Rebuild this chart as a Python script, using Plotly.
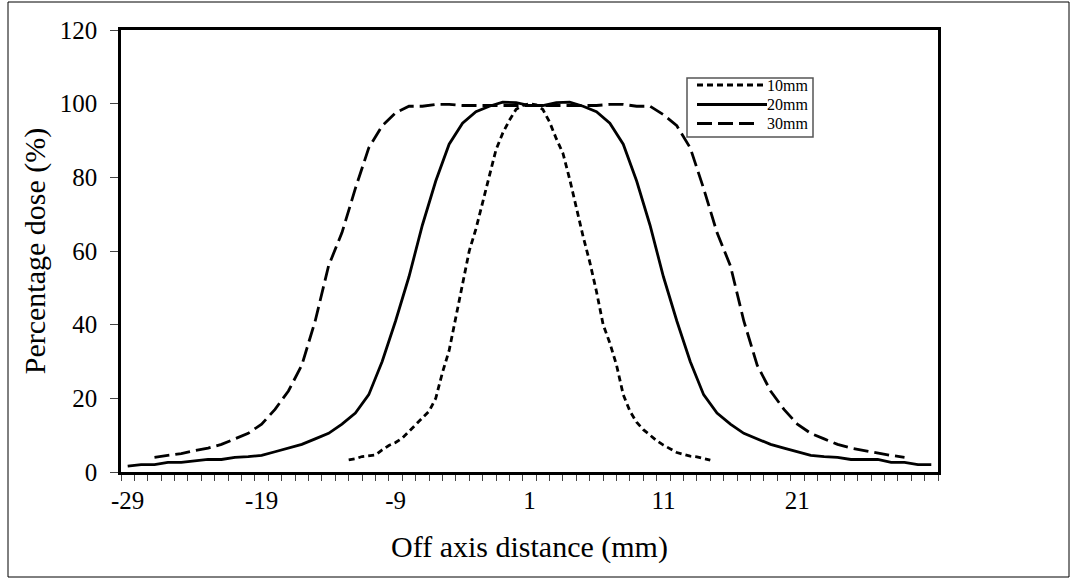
import plotly.graph_objects as go

# ---- data ----
x_20mm = list(range(-29, 32))
dose_20mm = [1.6, 2.0, 2.0, 2.6, 2.6, 3.0, 3.4, 3.4, 4.0, 4.2,      # -29..-20
             4.5, 5.5, 6.5, 7.5, 9.0, 10.5, 13.0, 16.0, 21.0, 30.0,  # -19..-10
             41.0, 53.0, 67.0, 79.0, 89.0, 94.7, 97.8, 99.3, 100.4, 100.3,  # -9..0
             99.5, 99.5, 100.3, 100.4, 99.3, 97.8, 94.7, 89.0, 79.0, 67.0,  # 1..10
             53.0, 41.0, 30.0, 21.0, 16.0, 13.0, 10.5, 9.0, 7.5, 6.5,      # 11..20
             5.5, 4.5, 4.2, 4.0, 3.4, 3.4, 3.4, 2.6, 2.6, 2.0, 2.0]        # 21..31

x_30mm = list(range(-27, 30))
dose_30mm = [4.0, 4.5, 5.0, 5.8, 6.5, 7.5, 9.0, 10.5, 13.0, 17.0,   # -27..-18
             22.0, 29.0, 41.0, 56.0, 65.0, 77.0, 88.0, 94.0, 97.5, 99.3,  # -17..-8
             99.3, 99.8, 99.8, 99.5, 99.5, 99.5, 99.5, 99.5, 99.5, 99.5,  # -7..2
             99.5, 99.5, 99.5, 99.5, 99.8, 99.8, 99.3, 99.3, 97.0, 94.0,  # 3..12
             88.0, 77.0, 65.0, 56.0, 41.0, 29.0, 22.0, 17.0, 13.0, 10.5,  # 13..22
             9.0, 7.5, 6.5, 5.8, 5.0, 4.5, 4.0]                           # 23..29

x_10mm = [v / 2 for v in range(-25, 30)]
dose_10mm = [3.3, 3.6, 4.2, 4.4, 4.6, 6.0, 7.2, 8.0, 9.2, 11.0,      # -12.5..-8
             12.8, 14.5, 16.5, 20.0, 27.0, 33.0, 42.0, 52.0, 60.0, 66.0,  # -7.5..-3
             73.0, 80.0, 87.5, 92.0, 95.5, 98.5, 99.5, 100.0, 99.7, 98.4,  # -2.5..2
             95.0, 90.5, 86.5, 79.5, 71.5, 64.0, 57.0, 49.0, 40.0, 35.0,  # 2.5..7
             29.0, 21.0, 16.5, 13.5, 11.5, 10.0, 8.5, 7.3, 6.3, 5.3,      # 7.5..12
             4.8, 4.3, 4.1, 3.6, 3.2]                                      # 12.5..14.5

series_names = ["10mm", "20mm", "30mm"]
x_tick_vals = [-29, -19, -9, 1, 11, 21]
x_tick_text = ["-29", "-19", "-9", "1", "11", "21"]
y_tick_vals = [0, 20, 40, 60, 80, 100, 120]

FONT = "Liberation Serif, Times New Roman, serif"
DASHES = ["6px,4px", "solid", "15px,6px"]
LW = 2.8

fig = go.Figure()
for xs, ys, name, dash in zip([x_10mm, x_20mm, x_30mm],
                              [dose_10mm, dose_20mm, dose_30mm],
                              series_names, DASHES):
    fig.add_trace(go.Scatter(x=xs, y=ys, mode="lines", name=name,
                             line=dict(color="black", width=LW, dash=dash)))

fig.update_layout(
    width=1075, height=579,
    margin=dict(l=121, r=137, t=30, b=107),
    paper_bgcolor="white", plot_bgcolor="white",
    font=dict(family=FONT, color="black", size=25),
    showlegend=False,
    xaxis=dict(range=[-29.5, 31.5], tickmode="array", tickvals=x_tick_vals,
               ticktext=x_tick_text, ticks="", showgrid=False, zeroline=False,
               showline=True, linecolor="black", linewidth=2.5, mirror=True,
               ticklabelstandoff=4,
               tickfont=dict(family=FONT, size=25, color="black"),
               minor=dict(tick0=-29.5, dtick=1, ticks="outside", ticklen=6,
                          tickwidth=1, tickcolor="#444444", showgrid=False),
               title=dict(text="Off axis distance (mm)", standoff=24,
                          font=dict(family=FONT, size=30, color="black"))),
    yaxis=dict(range=[0, 120], tickmode="array", tickvals=y_tick_vals,
               ticks="outside", ticklen=8, tickwidth=1, tickcolor="#444444",
               showgrid=False, zeroline=False, ticklabelstandoff=8,
               showline=True, linecolor="black", linewidth=2.5, mirror=True,
               tickfont=dict(family=FONT, size=25, color="black"),
               title=dict(text="Percentage dose (%)", standoff=6,
                          font=dict(family=FONT, size=30, color="black"))),
)

# outer chart-area border
def px_x(p):
    return (p - 121) / 817

def px_y(p):
    return (472 - p) / 442

fig.add_shape(type="rect", xref="paper", yref="paper",
              x0=px_x(8), x1=px_x(1069), y0=px_y(577), y1=px_y(2),
              line=dict(color="black", width=1), fillcolor="rgba(0,0,0,0)")

# legend box (drawn as in the original chart)
fig.add_shape(type="rect", xref="paper", yref="paper",
              x0=px_x(687), x1=px_x(813), y0=px_y(137), y1=px_y(78),
              line=dict(color="#555555", width=1.5), fillcolor="white")
leg_rows = [85, 104.5, 123.5]
leg_ends = [765, 767, 760]
for name, dash, row, end in zip(series_names, DASHES, leg_rows, leg_ends):
    fig.add_shape(type="line", xref="paper", yref="paper",
                  x0=px_x(697), x1=px_x(end), y0=px_y(row), y1=px_y(row),
                  line=dict(color="black", width=LW, dash=dash))
    fig.add_annotation(xref="paper", yref="paper", x=px_x(767), y=px_y(row),
                       text=name, showarrow=False, xanchor="left",
                       yanchor="middle", xshift=-2,
                       font=dict(family=FONT, size=16, color="black"))

fig.write_html("out.html", config={"displayModeBar": False},
               post_script="document.body.style.margin='0px';")
